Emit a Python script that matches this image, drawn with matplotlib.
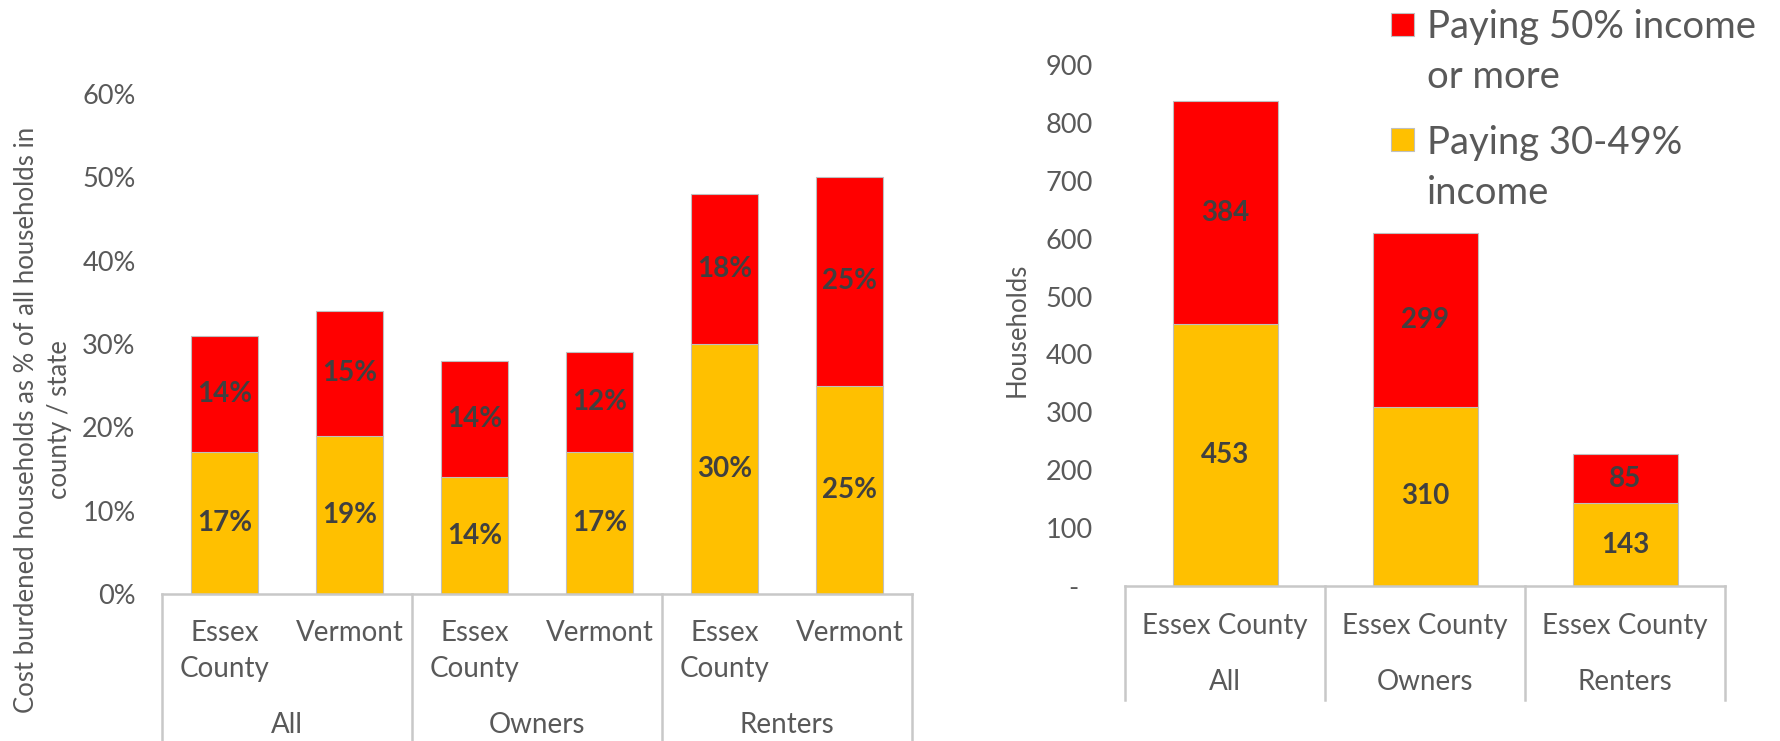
import matplotlib
matplotlib.use("Agg")
import matplotlib.pyplot as plt
from matplotlib.patches import Rectangle

plt.rcParams['font.family'] = ['Lato', 'DejaVu Sans']

# left chart: % of households
left_sub = ["Essex\nCounty", "Vermont", "Essex\nCounty", "Vermont", "Essex\nCounty", "Vermont"]
left_groups = ["All", "Owners", "Renters"]
left_30_49 = [17, 19, 14, 17, 30, 25]
left_50 = [14, 15, 14, 12, 18, 25]
left_ticks = [0, 10, 20, 30, 40, 50, 60]
left_ticklabels = ["0%", "10%", "20%", "30%", "40%", "50%", "60%"]

# right chart: households
right_sub = ["Essex County", "Essex County", "Essex County"]
right_groups = ["All", "Owners", "Renters"]
right_30_49 = [453, 310, 143]
right_50 = [384, 299, 85]
right_ticks = [0, 100, 200, 300, 400, 500, 600, 700, 800, 900]
right_ticklabels = ["-  ", "100", "200", "300", "400", "500", "600", "700", "800", "900"]

legend_labels = ["Paying 50% income\nor more", "Paying 30-49%\nincome"]

RED = "#FF0000"
YEL = "#FFC000"
GREY_TXT = "#595959"
LBL = "#404040"
LINE = "#C8C8C8"

W, H = 1781, 741
fig = plt.figure(figsize=(W / 100, H / 100), dpi=100)
ax1 = fig.add_axes([162 / W, 1 - 594 / H, 750 / W, 500 / H])
ax2 = fig.add_axes([1125 / W, 1 - 586 / H, 600 / W, 521 / H])


def style(ax):
    for s in ["top", "right", "left"]:
        ax.spines[s].set_visible(False)
    ax.spines["bottom"].set_color(LINE)
    ax.spines["bottom"].set_linewidth(1.8)
    ax.tick_params(axis="both", length=0, labelsize=19.5, labelcolor=GREY_TXT)
    ax.set_xticks([])


# ---- left
style(ax1)
x1 = range(len(left_sub))
b1 = ax1.bar(x1, left_30_49, width=0.53, color=YEL, edgecolor="#BFBFBF", linewidth=0.8)
b2 = ax1.bar(x1, left_50, width=0.53, bottom=left_30_49, color=RED, edgecolor="#BFBFBF", linewidth=0.8)
ax1.bar_label(b1, labels=[f"{v}%" for v in left_30_49], label_type="center",
              fontsize=20, fontweight="bold", color=LBL)
ax1.bar_label(b2, labels=[f"{v}%" for v in left_50], label_type="center",
              fontsize=20, fontweight="bold", color=LBL)
ax1.set_xlim(-0.5, 5.5)
ax1.set_ylim(0, 60)
ax1.set_yticks(left_ticks)
ax1.set_yticklabels(left_ticklabels)
ax1.tick_params(axis="y", pad=19)

tr1 = ax1.get_xaxis_transform()
for xb in [-0.5, 1.5, 3.5, 5.5]:
    ax1.plot([xb, xb], [0, -0.3], transform=tr1, color=LINE, lw=1.8, clip_on=False)
for i, lab in enumerate(left_sub):
    for j, line in enumerate(lab.split("\n")):
        ax1.text(i, -0.078 - j * 0.072, line, transform=tr1, ha="center", va="center",
                 fontsize=20, color=GREY_TXT)
for g, lab in enumerate(left_groups):
    ax1.text(2 * g + 0.5, -0.262, lab, transform=tr1, ha="center", va="center",
             fontsize=20, color=GREY_TXT)

fig.text(43 / W, 1 - 420 / H, "Cost burdened households as % of all households in\ncounty / state",
         rotation=90, ha="center", va="center", multialignment="center",
         fontsize=18.5, color=GREY_TXT, linespacing=1.4)

# ---- right
style(ax2)
x2 = range(len(right_sub))
c1 = ax2.bar(x2, right_30_49, width=0.525, color=YEL, edgecolor="#BFBFBF", linewidth=0.8)
c2 = ax2.bar(x2, right_50, width=0.525, bottom=right_30_49, color=RED, edgecolor="#BFBFBF", linewidth=0.8)
ax2.bar_label(c1, label_type="center", fontsize=20, fontweight="bold", color=LBL)
ax2.bar_label(c2, label_type="center", fontsize=20, fontweight="bold", color=LBL)
ax2.set_xlim(-0.5, 2.5)
ax2.set_ylim(0, 900)
ax2.set_yticks(right_ticks)
ax2.set_yticklabels(right_ticklabels)
ax2.tick_params(axis="y", pad=23)

tr2 = ax2.get_xaxis_transform()
for xb in [-0.5, 0.5, 1.5, 2.5]:
    ax2.plot([xb, xb], [0, -0.219], transform=tr2, color=LINE, lw=1.8, clip_on=False)
for i, lab in enumerate(right_sub):
    ax2.text(i, -0.077, lab, transform=tr2, ha="center", va="center", fontsize=20, color=GREY_TXT)
for g, lab in enumerate(right_groups):
    ax2.text(g, -0.184, lab, transform=tr2, ha="center", va="center", fontsize=20, color=GREY_TXT)

fig.text(1017 / W, 1 - 330 / H, "Households", rotation=90, ha="center", va="center",
         fontsize=18.5, color=GREY_TXT)

# ---- legend (drawn by hand so the marker sits on the first line)
leg_colors = [RED, YEL]
leg_marker_y = [24, 139]
leg_text_y = [52, 168]
for col, my, ty, lab in zip(leg_colors, leg_marker_y, leg_text_y, legend_labels):
    fig.patches.append(Rectangle((1391 / W, 1 - (my + 11.5) / H), 23 / W, 23 / H,
                                 transform=fig.transFigure, facecolor=col,
                                 edgecolor="#BFBFBF", linewidth=0.8))
    fig.text(1427 / W, 1 - ty / H, lab, ha="left", va="center", fontsize=27.5,
             color=GREY_TXT, linespacing=1.45)

fig.savefig("out.png", dpi=100, facecolor="white")
